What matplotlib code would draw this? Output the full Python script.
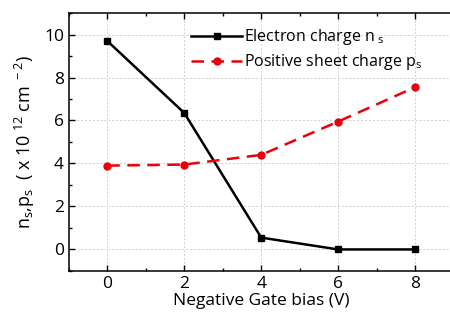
import numpy as np
import matplotlib
matplotlib.use("Agg")
import matplotlib.pyplot as plt
from matplotlib.ticker import MultipleLocator

plt.rcParams['font.family'] = ['Open Sans', 'DejaVu Sans']
plt.rcParams['mathtext.default'] = 'regular'

# data
bias = [0, 2, 4, 6, 8]
electron = [9.7, 6.35, 0.55, 0.0, 0.0]
positive = [3.9, 3.95, 4.4, 5.95, 7.55]

fig = plt.figure(figsize=(4.5, 3.18), dpi=100)
ax = fig.add_axes([0.153, 0.148, 0.855, 0.811])

ax.plot(bias, electron, color='black', lw=1.8, marker='s', ms=5,
        label='Electron charge n$_{\\ s}$')
ax.plot(bias, positive, color='#e8000b', lw=1.8, ls=(0, (5, 3)), marker='o', ms=5,
        label='Positive sheet charge p$_s$')

ax.set_xlim(-1, 9)
ax.set_ylim(-1, 11)
ax.xaxis.set_major_locator(MultipleLocator(2))
ax.xaxis.set_minor_locator(MultipleLocator(1))
ax.yaxis.set_major_locator(MultipleLocator(2))
ax.yaxis.set_minor_locator(MultipleLocator(1))
ax.tick_params(which='both', direction='in', top=True, right=False,
               labelsize=12.5, width=1)
ax.tick_params(which='major', length=4)
ax.tick_params(which='minor', length=2.5)
ax.grid(True, which='major', ls=(0, (2, 2)), color='#d0d0d0', lw=0.7)
ax.spines['right'].set_visible(False)
for s in ax.spines.values():
    s.set_linewidth(1.1)

ax.set_xlabel('Negative Gate bias (V)', fontsize=12.5, labelpad=1)
ax.set_ylabel('n$_s$,p$_s$  ( x 10$^{\\ 12}$ cm$^{\\ -2}$)', fontsize=13, labelpad=5)

ax.legend(loc='upper left', bbox_to_anchor=(0.28, 1.0), frameon=False,
          fontsize=11.5, handlelength=3.2, handletextpad=0.1, labelspacing=0.3)

fig.savefig('out.png', dpi=100)
